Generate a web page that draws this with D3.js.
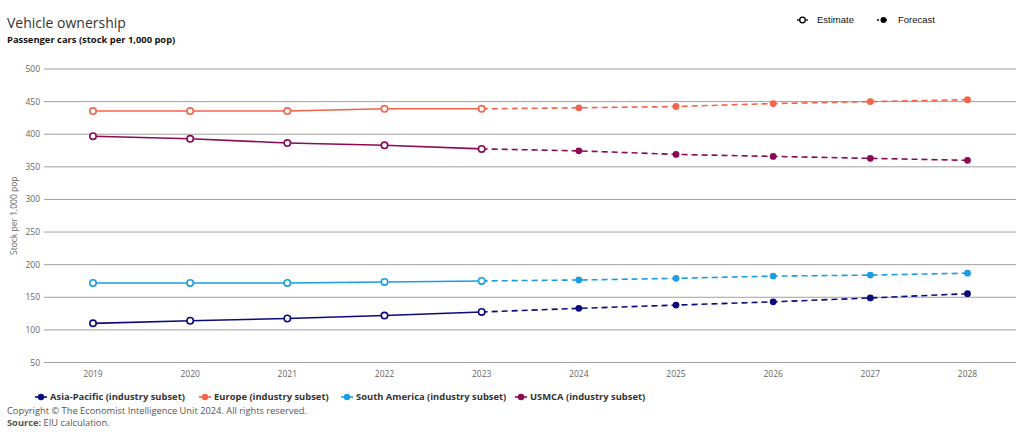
<!DOCTYPE html>
<html>
<head>
<meta charset="utf-8">
<script src="https://cdn.jsdelivr.net/npm/d3@7"></script>
<style>
  body { margin: 0; background: #fff; }
  svg { display: block; font-family: "Open Sans", "Noto Sans", sans-serif; }
</style>
</head>
<body>
<div id="chart"></div>
<script>
// Vehicle ownership - passenger cars per 1,000 pop
const years = [2019, 2020, 2021, 2022, 2023, 2024, 2025, 2026, 2027, 2028];
const lastEstimate = 2023;
const yTicks = [50, 100, 150, 200, 250, 300, 350, 400, 450, 500];

const asiaPacific = [110, 114, 117.5, 122, 127.5, 133, 138, 143, 149, 155.5];
const europe = [435.5, 435.5, 435.5, 439, 439, 440.5, 442.5, 447, 450, 453];
const southAmerica = [172, 172, 172, 173.5, 175, 176.5, 179, 182.5, 184, 187];
const usmca = [397, 393, 386.5, 383, 377.5, 374.5, 369, 366, 363, 360];

const seriesNames = ["Asia-Pacific (industry subset)", "Europe (industry subset)", "South America (industry subset)", "USMCA (industry subset)"];
const seriesColors = ["#0b0b7e", "#f5634a", "#1b9de2", "#8c0a55"];
const seriesValues = [asiaPacific, europe, southAmerica, usmca];

const W = 1024, H = 439;
const margin = { top: 69, right: 8, bottom: 76, left: 44 };

const svg = d3.select("#chart").append("svg")
  .attr("width", W)
  .attr("height", H);

const x = d3.scaleLinear()
  .domain([2019, 2028])
  .range([93, 967.5]);

const y = d3.scaleLinear()
  .domain([50, 500])
  .range([H - margin.bottom - 0.5 , margin.top]);

// title block
svg.append("text")
  .attr("x", 7).attr("y", 28)
  .attr("font-size", "14px")
  .attr("fill", "#333")
  .text("Vehicle ownership");

svg.append("text")
  .attr("x", 7).attr("y", 43)
  .attr("font-size", "9.4px")
  .attr("font-weight", "bold")
  .attr("fill", "#111")
  .text("Passenger cars (stock per 1,000 pop)");

// grid + y labels
const grid = svg.append("g");
grid.selectAll("line")
  .data(yTicks).enter().append("line")
  .attr("x1", margin.left).attr("x2", W - margin.right)
  .attr("y1", d => y(d)).attr("y2", d => y(d))
  .attr("stroke", "#a0a0a0")
  .attr("stroke-width", 1);

grid.selectAll("text")
  .data(yTicks).enter().append("text")
  .attr("x", 40).attr("y", d => y(d) + 3)
  .attr("text-anchor", "end")
  .attr("font-size", "8.5px")
  .attr("fill", "#666")
  .text(d => d);

svg.append("text")
  .attr("transform", `translate(17,${(y(50) + y(500)) / 2}) rotate(-90)`)
  .attr("text-anchor", "middle")
  .attr("font-size", "8.5px")
  .attr("fill", "#666")
  .text("Stock per 1,000 pop");

// x labels
svg.append("g").selectAll("text")
  .data(years).enter().append("text")
  .attr("x", d => x(d)).attr("y", 377)
  .attr("text-anchor", "middle")
  .attr("font-size", "8.5px")
  .attr("fill", "#666")
  .text(d => d);

const line = d3.line()
  .x(d => x(d.year))
  .y(d => y(d.value));

seriesValues.forEach((vals, i) => {
  const pts = years.map((yr, j) => ({ year: yr, value: vals[j] }));
  const est = pts.filter(d => d.year <= lastEstimate);
  const fc = pts.filter(d => d.year >= lastEstimate);
  const g = svg.append("g");

  g.append("path").datum(est)
    .attr("fill", "none")
    .attr("stroke", seriesColors[i])
    .attr("stroke-width", 1.6)
    .attr("d", line);

  g.append("path").datum(fc)
    .attr("fill", "none")
    .attr("stroke", seriesColors[i])
    .attr("stroke-width", 1.6)
    .attr("stroke-dasharray", "6,4")
    .attr("d", line);

  g.selectAll("circle.est")
    .data(est).enter().append("circle")
    .attr("class", "est")
    .attr("cx", d => x(d.year)).attr("cy", d => y(d.value))
    .attr("r", 3.2)
    .attr("fill", "#fff")
    .attr("stroke", seriesColors[i])
    .attr("stroke-width", 1.6);

  g.selectAll("circle.fc")
    .data(fc.slice(1)).enter().append("circle")
    .attr("class", "fc")
    .attr("cx", d => x(d.year)).attr("cy", d => y(d.value))
    .attr("r", 3.4)
    .attr("fill", seriesColors[i]);
});

// top legend (estimate / forecast)
const topLeg = svg.append("g").attr("font-family", "'Liberation Sans', Arial, sans-serif");
topLeg.append("line")
  .attr("x1", 797).attr("x2", 808).attr("y1", 20).attr("y2", 20)
  .attr("stroke", "#000").attr("stroke-width", 1.3);
topLeg.append("circle")
  .attr("cx", 802.5).attr("cy", 20).attr("r", 2.8)
  .attr("fill", "#fff").attr("stroke", "#000").attr("stroke-width", 1.3);
topLeg.append("text")
  .attr("x", 817).attr("y", 23)
  .attr("font-size", "9.5px").attr("fill", "#111")
  .text("Estimate");

topLeg.append("line")
  .attr("x1", 877).attr("x2", 889).attr("y1", 20).attr("y2", 20)
  .attr("stroke", "#000").attr("stroke-width", 1.3)
  .attr("stroke-dasharray", "2,2");
topLeg.append("circle")
  .attr("cx", 883.5).attr("cy", 20).attr("r", 3)
  .attr("fill", "#000");
topLeg.append("text")
  .attr("x", 898).attr("y", 23)
  .attr("font-size", "9.5px").attr("fill", "#111")
  .text("Forecast");

// bottom legend
const legendX = [41, 205, 347, 521];
const bottomLeg = svg.append("g");
seriesNames.forEach((name, i) => {
  const lg = bottomLeg.append("g").attr("transform", `translate(${legendX[i]},397)`);
  lg.append("line")
    .attr("x1", -6).attr("x2", 6)
    .attr("stroke", seriesColors[i]).attr("stroke-width", 1.6);
  lg.append("circle")
    .attr("r", 3.2)
    .attr("fill", seriesColors[i]);
  lg.append("text")
    .attr("x", 9).attr("y", 3.4)
    .attr("font-size", "9.4px")
    .attr("font-weight", "bold")
    .attr("fill", "#333")
    .text(name);
});

// footer
svg.append("text")
  .attr("x", 7).attr("y", 414)
  .attr("font-size", "9.3px").attr("fill", "#555")
  .text("Copyright © The Economist Intelligence Unit 2024. All rights reserved.");

const src = svg.append("text")
  .attr("x", 7).attr("y", 426)
  .attr("font-size", "9.3px").attr("fill", "#555");
src.append("tspan").attr("font-weight", "bold").text("Source:");
src.append("tspan").text(" EIU calculation.");
</script>
</body>
</html>
